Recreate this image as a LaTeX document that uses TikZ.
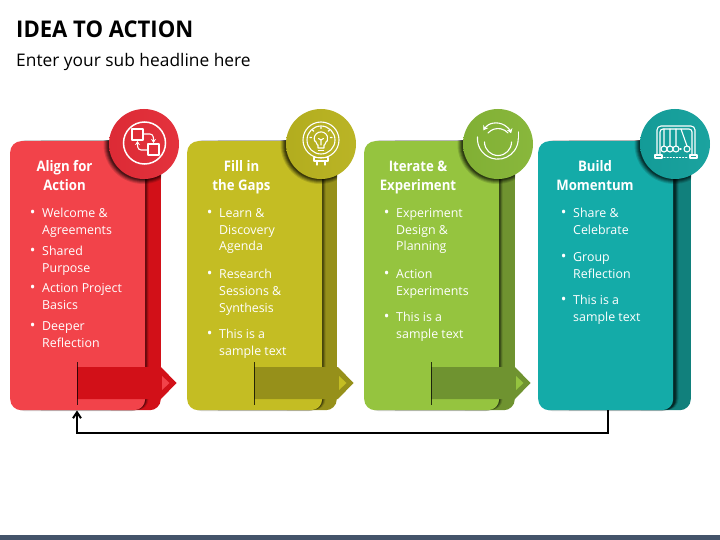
\documentclass[tikz,border=0pt]{standalone}
\usepackage{fontspec}
\setmainfont{Open Sans}
\newfontfamily\headfont{Open Sans}[FakeStretch=.91]
\newfontfamily\titlefont{Open Sans}[FakeStretch=.96]
\usetikzlibrary{arrows.meta,calc,shapes.geometric}
\definecolor{redF}{HTML}{F2434A}\definecolor{redB}{HTML}{D21018}\definecolor{redC}{HTML}{E32C37}
\definecolor{yelF}{HTML}{C4BD23}\definecolor{yelB}{HTML}{96901A}\definecolor{yelC}{HTML}{B8B21F}
\definecolor{greF}{HTML}{95C43F}\definecolor{greB}{HTML}{6F9330}\definecolor{greC}{HTML}{85B536}
\definecolor{teaF}{HTML}{14ABA8}\definecolor{teaB}{HTML}{11807C}\definecolor{teaC}{HTML}{14A09C}
\definecolor{barC}{HTML}{44546A}
\tikzset{
  cardbox/.style={draw=none,rectangle,rounded corners=11pt,inner sep=0pt},
  frontcard/.style={cardbox,minimum width=135pt,minimum height=269pt},
  backcard/.style={cardbox,minimum width=60pt,minimum height=269pt},
  iconring/.style={draw=white,line width=1.5pt,fill=none},
  iconline/.style={draw=white,line width=1.1pt,line cap=round,line join=round},
  loopline/.style={draw=black,line width=2pt},
  bigdisc/.style={circle,draw=none,minimum size=70pt,inner sep=0pt,shading angle=45},
  headtext/.style={align=center,text=white,inner sep=0pt,anchor=north,font=\headfont\fontsize{14.5}{19}\selectfont\bfseries},
  bullettext/.style={align=left,text=white,inner sep=0pt,anchor=north west,font=\fontsize{12.4}{16.9}\selectfont},
}
\newcommand\bul[4]{\node[bullettext] (#1) at (#2,#3-5) {\llap{\raisebox{-.6pt}{\fontsize{15}{15}\selectfont •}\hspace{6.8pt}}\rule{0pt}{10pt}#4};}
\newcommand\hd[3]{\node[headtext] (#1) at (#2,160) {\rule{0pt}{11pt}#3};}
\newcommand\cardbase[8]{%
  \fill[black!18,rounded corners=11pt] (#2+4,140.2) rectangle (#2+#3-3,411.2);
  \node[backcard,fill=#6,anchor=north east] (back#1) at (#4,141) {};
  \foreach \d/\o in {3.5/.12,2.5/.2,1.5/.3,.7/.35}{
    \fill[black,opacity=\o,rounded corners=11pt] (#2+20,141) rectangle (#2+#3+\d,410);}
  \node[frontcard,fill=#5,anchor=north west] (card#1) at (#2,141) {};
}
\newcommand\discpart[4]{%
  \begin{scope}
    \clip (#3,141) rectangle (#4,410);
    \foreach \r/\o in {39.5/.12,38.5/.16,37.5/.2,36.5/.25,35.5/.3}{
      \fill[black,opacity=\o] (#2-1,144.5) circle (\r);}
  \end{scope}
}
\newcommand\arrowpart[5]{%
  \fill[#4] (#2,367) -- (#3,367) -- (#3+15.5,383) -- (#3,399) -- (#2,399) -- cycle;
  \fill[#5] (#3+1,376) -- (#3+8.5,383) -- (#3+1,390) -- cycle;
  \draw[black,opacity=.75,line width=.8pt] (#2,362) -- (#2,405);
}
\begin{document}
\begin{tikzpicture}[x=1pt,y=-1pt]
\useasboundingbox (0,0) rectangle (720,540);
\fill[white] (0,0) rectangle (720,540);
\fill[barC] (0,535) rectangle (720,540);
\node[anchor=base west,inner sep=0pt,font=\titlefont\fontsize{23}{26}\selectfont\bfseries] (title) at (16,37.5) {IDEA TO ACTION};
\node[anchor=base west,inner sep=0pt,font=\fontsize{17.35}{20}\selectfont] (subtitle) at (16,66.6) {Enter your sub headline here};

\cardbase{1}{10}{135}{161}{redF}{redB}{144}{redC}
\cardbase{2}{187}{135}{337}{yelF}{yelB}{321}{yelC}
\cardbase{3}{364}{135}{515}{greF}{greB}{498}{greC}
\cardbase{4}{538}{137}{691}{teaF}{teaB}{675}{teaC}

\arrowpart{1}{77}{161}{redB}{redF}
\arrowpart{2}{254}{338}{yelB}{yelF}
\arrowpart{3}{431}{515}{greB}{greF}

\discpart{1}{144}{10}{161}
\discpart{2}{321}{187}{337}
\discpart{3}{498}{364}{515}
\discpart{4}{675}{538}{691}

\node[bigdisc,left color=redC!97!black,right color=redC!97!white] (disc1) at (144,144) {};
\node[bigdisc,left color=yelC!97!black,right color=yelC!97!white] (disc2) at (321,144) {};
\node[bigdisc,left color=greC!97!black,right color=greC!97!white] (disc3) at (498,144) {};
\node[bigdisc,left color=teaC!97!black,right color=teaC!97!white] (disc4) at (675,144) {};

\hd{h1}{64.5}{Align for\\Action}
\hd{h2}{241.5}{Fill in\\the Gaps}
\hd{h3}{418}{Iterate \&\\Experiment}
\hd{h4}{595}{Build\\Momentum}

\bul{a1}{42}{212}{Welcome \&\\Agreements}
\bul{a2}{42}{250}{Shared\\Purpose}
\bul{a3}{42}{287}{Action Project\\Basics}
\bul{a4}{42}{325}{Deeper\\Reflection}
\bul{b1}{219}{212}{Learn \&\\Discovery\\Agenda}
\bul{b2}{219}{273}{Research\\Sessions \&\\Synthesis}
\bul{b3}{219}{333}{This is a\\sample text}
\bul{c1}{396}{212}{Experiment\\Design \&\\Planning}
\bul{c2}{396}{273}{Action\\Experiments}
\bul{c3}{396}{316}{This is a\\sample text}
\bul{d1}{573}{212}{Share \&\\Celebrate}
\bul{d2}{573}{256}{Group\\Reflection}
\bul{d3}{573}{299}{This is a\\sample text}

% icon 1
\draw[iconring] (144.5,143) circle (21);
\draw[iconline] (132,129) rectangle (143,140);
\draw[iconline] (148,144) rectangle (159,155);
\draw[iconline,-{Stealth[length=4pt,width=5pt]}] (143,134) -- (150,134) to[out=0,in=90] (153.5,143);
\draw[iconline,-{Stealth[length=4pt,width=5pt]}] (148,150) -- (141,150) to[out=180,in=-90] (137.5,141);

% icon 2
\draw[iconline] (321,140) circle (18);
\draw[iconline] (321,140) circle (14);
\draw[iconline] (318,148) -- (318,145) to[out=-110,in=50] (314.6,141) arc (160:380:6.8) to[out=130,in=-70] (324,145) -- (324,148) -- cycle;
\draw[iconline] (318.5,150.5) -- (323.5,150.5);
\draw[iconline] (318.5,138.5) to[out=-60,in=180] (321,140) to[out=0,in=-120] (323.5,138.5) (321,140) -- (321,145);
\draw[iconline] (321,127) -- (321,128.5) (312.5,130) -- (313.7,131.2) (329.5,130) -- (328.3,131.2) (310,137.5) -- (311.5,137.5) (332,137.5) -- (330.5,137.5);
\draw[iconline] (314,157.5) rectangle (328,161);
\draw[iconline] (317,161) -- (317,165) (325,161) -- (325,165);

% icon 3
\draw[iconline] (477.5,137) arc (185:0:20.4);
\draw[iconline] (518.3,139) -- (518.3,132);
\draw[iconline] (484.5,142) arc (180:0:13.5);
\draw[iconline] (488,133) arc (222:318:13.5);
\draw[iconline,{Stealth[length=4.5pt,width=6pt]}-{Stealth[length=4.5pt,width=6pt]}] (483.4,130.3) arc (212:340:15.5);

% icon 4
\draw[iconline] (657,155) -- (657,130) arc (180:270:4) -- (691,126) arc (-90:0:4) -- (695,155);
\draw[iconline] (660,155) -- (660,132) arc (180:270:3) -- (689,129) arc (-90:0:3) -- (692,155);
\draw[iconline] (655,155) rectangle (662,158);
\draw[iconline] (690,155) rectangle (697,158);
\draw[iconline] (664,129) -- (664,146) (670,129) -- (670,146) (676,129) -- (676,146) (681,129) -- (687,146);
\draw[iconline] (664,149) circle (3) (670,149) circle (3) (676,149) circle (3) (687,149) circle (3);
\draw[iconline,dotted] (680,149) -- (683,149);
\draw[iconline,dotted] (664,157.5) -- (688,157.5);

\coordinate (loopstart) at ($(card4.south west)+(70,0)$);
\coordinate (loopend) at ($(card1.south west)+(67,0)$);
\coordinate (loopb) at ($(loopstart)+(0,23)$);
\draw[loopline,-{Straight Barb[length=6pt,width=8pt]}] (loopstart) -- (loopb) -| (loopend);
\end{tikzpicture}
\end{document}
